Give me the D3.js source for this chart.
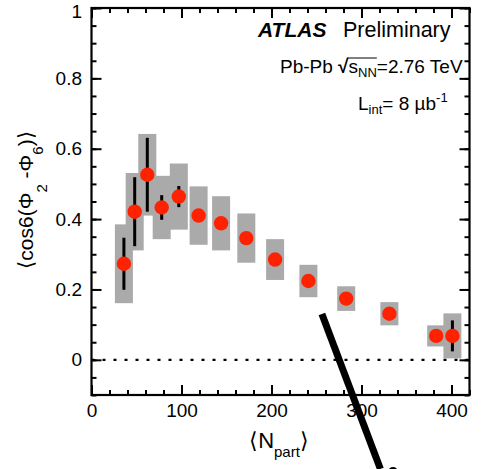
<!DOCTYPE html>
<html>
<head>
<meta charset="utf-8">
<script src="https://cdn.jsdelivr.net/npm/d3@7"></script>
<style>
  html, body { margin: 0; padding: 0; background: #fff; }
  svg { display: block; font-family: "Liberation Sans", Arial, Helvetica, sans-serif; }
</style>
</head>
<body>
<svg id="chart" width="481" height="469"></svg>
<script>
// ---- data ----
const npart    = [36, 48, 62, 78, 97, 119, 144, 172, 204, 241, 283, 331, 383, 401];
const values   = [0.273, 0.421, 0.526, 0.433, 0.464, 0.410, 0.388, 0.346, 0.285, 0.224, 0.174, 0.131, 0.068, 0.068];
const statErr  = [0.074, 0.098, 0.105, 0.035, 0.030, 0.015, 0.015, 0.015, 0.012, 0.012, 0.012, 0.010, 0.012, 0.044];
const sysErr   = [0.112, 0.110, 0.116, 0.090, 0.094, 0.083, 0.077, 0.070, 0.058, 0.046, 0.035, 0.033, 0.030, 0.064];
const sysHalfWidth = 10;
const xMajorTicks = [0, 100, 200, 300, 400];
const yMajorTicks = [0, 0.2, 0.4, 0.6, 0.8, 1];
const xMinorTicks = d3.range(0, 421, 20);
const yMinorTicks = d3.range(-0.1, 1.0001, 0.05).map(v => +v.toFixed(2));
// annotation stroke (pen mark on the reference), in data coordinates
const penStroke = [[256, 0.13], [321, -0.31]];

// ---- layout ----
const svg = d3.select("#chart");
const L = 91.5, R = 469.5, T = 8, B = 395;
const x = d3.scaleLinear().domain([0, 420]).range([L, R]);
const y = d3.scaleLinear().domain([-0.1, 1]).range([B, T]);

const data = npart.map((n, i) => ({ n, v: values[i], s: statErr[i], sy: sysErr[i] }));

// systematic boxes
svg.append("g").selectAll("rect").data(data).join("rect")
  .attr("x", d => x(d.n - sysHalfWidth))
  .attr("width", d => x(d.n + sysHalfWidth) - x(d.n - sysHalfWidth))
  .attr("y", d => y(d.v + d.sy))
  .attr("height", d => y(d.v - d.sy) - y(d.v + d.sy))
  .attr("fill", "#aaaaaa");

// zero line (dotted)
svg.append("line")
  .attr("x1", x(0)).attr("x2", x(420))
  .attr("y1", y(0)).attr("y2", y(0))
  .attr("stroke", "#000").attr("stroke-width", 2.2)
  .attr("stroke-dasharray", "3,8");

// stat error bars
svg.append("g").selectAll("line").data(data).join("line")
  .attr("x1", d => x(d.n)).attr("x2", d => x(d.n))
  .attr("y1", d => y(d.v + d.s)).attr("y2", d => y(d.v - d.s))
  .attr("stroke", "#000").attr("stroke-width", 3);

// markers
svg.append("g").selectAll("circle").data(data).join("circle")
  .attr("cx", d => x(d.n)).attr("cy", d => y(d.v))
  .attr("r", 7.2)
  .attr("fill", "#ff2200");

// ---- axes (ticks inside, all four sides) ----
function styleAxis(g) {
  g.select(".domain").remove();
  g.selectAll(".tick line").attr("stroke", "#000").attr("stroke-width", 2);
  g.selectAll("text").attr("fill", "#000").attr("font-size", 19);
}
// bottom
svg.append("g").attr("transform", `translate(0,${B})`)
  .call(d3.axisBottom(x).tickValues(xMinorTicks).tickSize(-5).tickFormat(""))
  .call(styleAxis);
svg.append("g").attr("transform", `translate(0,${B})`)
  .call(d3.axisBottom(x).tickValues(xMajorTicks).tickSize(-10).tickPadding(8.5).tickFormat(d3.format("d")))
  .call(styleAxis);
// top
svg.append("g").attr("transform", `translate(0,${T})`)
  .call(d3.axisTop(x).tickValues(xMinorTicks).tickSize(-5).tickFormat(""))
  .call(styleAxis);
svg.append("g").attr("transform", `translate(0,${T})`)
  .call(d3.axisTop(x).tickValues(xMajorTicks).tickSize(-10).tickFormat(""))
  .call(styleAxis);
// left
svg.append("g").attr("transform", `translate(${L},0)`)
  .call(d3.axisLeft(y).tickValues(yMinorTicks).tickSize(-5).tickFormat(""))
  .call(styleAxis);
const yAxisG = svg.append("g").attr("transform", `translate(${L},0)`)
  .call(d3.axisLeft(y).tickValues(yMajorTicks).tickSize(-10).tickPadding(9.5).tickFormat(d => d === 0 ? "0" : d === 1 ? "1" : d3.format(".1f")(d)))
  .call(styleAxis);
// keep the top label "1" inside the picture
yAxisG.selectAll(".tick").filter(d => d === 1).select("text").attr("dy", "0.5em");
// right
svg.append("g").attr("transform", `translate(${R},0)`)
  .call(d3.axisRight(y).tickValues(yMinorTicks).tickSize(-5).tickFormat(""))
  .call(styleAxis);
svg.append("g").attr("transform", `translate(${R},0)`)
  .call(d3.axisRight(y).tickValues(yMajorTicks).tickSize(-10).tickFormat(""))
  .call(styleAxis);

// frame
svg.append("rect")
  .attr("x", L).attr("y", T).attr("width", R - L).attr("height", B - T)
  .attr("fill", "none").attr("stroke", "#000").attr("stroke-width", 2.2);

// ---- axis titles ----
const xt = svg.append("text")
  .attr("x", 279).attr("y", 448)
  .attr("text-anchor", "middle")
  .attr("font-size", 22).attr("fill", "#000");
xt.append("tspan").text("⟨N");
xt.append("tspan").attr("font-size", 15).attr("dy", 9).text("part");
xt.append("tspan").attr("dy", -9).text("⟩");

const yt = svg.append("text")
  .attr("transform", "translate(33,200) rotate(-90)")
  .attr("text-anchor", "middle")
  .attr("font-size", 21).attr("fill", "#000");
yt.append("tspan").text("⟨cos6(Φ");
yt.append("tspan").attr("font-size", 15).attr("dy", 14).text("2");
yt.append("tspan").attr("dy", -14).text(" -Φ");
yt.append("tspan").attr("font-size", 15).attr("dy", 10).text("6");
yt.append("tspan").attr("dy", -10).text(")⟩");

// ---- labels ----
svg.append("text").attr("x", 258).attr("y", 37)
  .attr("font-size", 21).attr("font-weight", "bold").attr("font-style", "italic")
  .attr("fill", "#000").text("ATLAS");
svg.append("text").attr("x", 343).attr("y", 37)
  .attr("font-size", 21.5).attr("fill", "#000").text("Preliminary");

const ppt = svg.append("text").attr("x", 280).attr("y", 73)
  .attr("font-size", 19).attr("fill", "#000");
ppt.append("tspan").text("Pb-Pb ");
ppt.append("tspan").attr("font-weight", "bold").text("√");
ppt.append("tspan").text("s");
ppt.append("tspan").attr("font-size", 13).attr("dy", 4).text("NN");
ppt.append("tspan").attr("dy", -4).text("=2.76 TeV");
{
  const node = ppt.node();
  const b = node.getExtentOfChar(9);
  const sq = node.getExtentOfChar(6);
  svg.append("line")
    .attr("x1", sq.x + sq.width - 1.5).attr("x2", b.x + b.width)
    .attr("y1", sq.y + 2).attr("y2", sq.y + 2)
    .attr("stroke", "#000").attr("stroke-width", 1);
}

const lt = svg.append("text").attr("x", 358).attr("y", 110)
  .attr("font-size", 19).attr("fill", "#000");
lt.append("tspan").text("L");
lt.append("tspan").attr("font-size", 13).attr("dy", 4).text("int");
lt.append("tspan").attr("dy", -4).text("= 8 µb");
lt.append("tspan").attr("font-size", 13).attr("dy", -8).text("-1");

// ---- pen annotation ----
svg.append("line")
  .attr("x1", x(penStroke[0][0])).attr("y1", y(penStroke[0][1]))
  .attr("x2", x(penStroke[1][0])).attr("y2", y(penStroke[1][1]))
  .attr("stroke", "#000").attr("stroke-width", 7);
svg.append("circle").attr("cx", 393).attr("cy", 472).attr("r", 5).attr("fill", "#000");
</script>
</body>
</html>
